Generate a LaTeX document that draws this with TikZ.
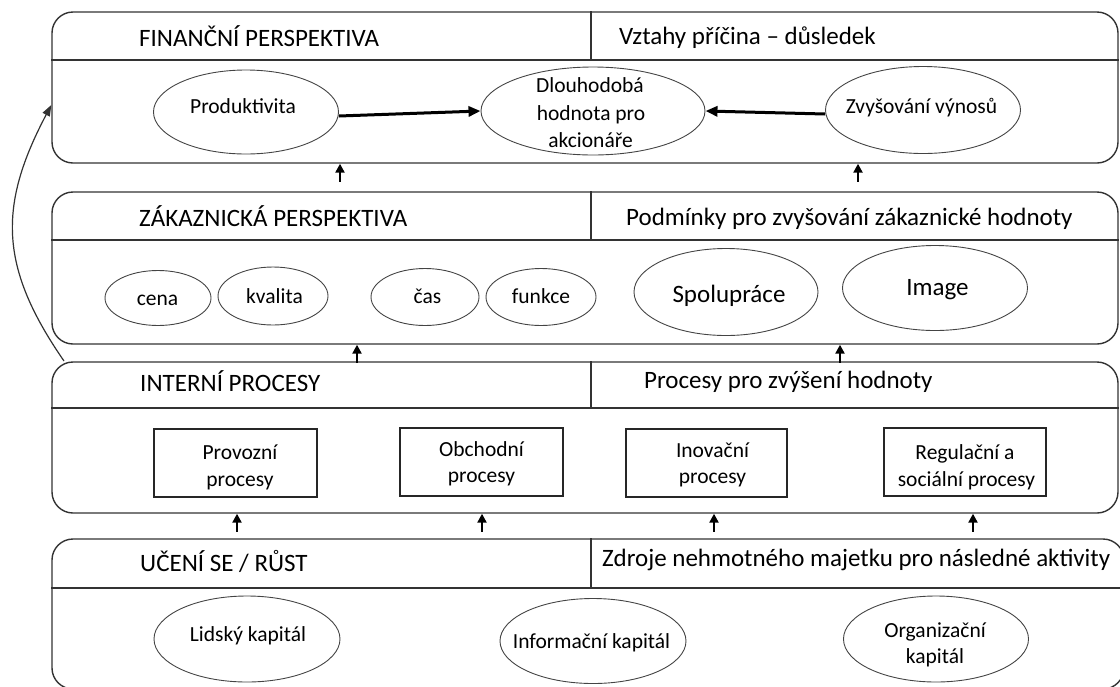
\documentclass[tikz,border=0pt]{standalone}
\usepackage{fontspec}
\setmainfont{Carlito}
\usetikzlibrary{shapes.geometric,arrows.meta,fit}
\definecolor{frame}{HTML}{333333}
\definecolor{ovalline}{HTML}{444444}
\begin{document}
\begin{tikzpicture}[x=1pt,y=-1pt,
  panel/.style={draw=frame, line width=1.4pt, rounded corners=21pt, inner sep=0pt},
  rule/.style={draw=frame, line width=1.4pt},
  oval/.style={draw=ovalline, ellipse, line width=0.9pt, inner sep=0pt},
  procbox/.style={draw=black!85, rectangle, line width=1.2pt, inner sep=0pt},
  hdr/.style={font=\fontsize{25}{30}\selectfont, anchor=base west, inner sep=0pt},
  body/.style={font=\fontsize{21.5}{26}\selectfont, anchor=base, inner sep=0pt},
  big/.style={font=\fontsize{25}{30}\selectfont, anchor=base, inner sep=0pt},
  uparrow/.style={line width=2.6pt, -{Triangle[length=9pt,width=9pt]}},
  thickarrow/.style={line width=3pt, -{Triangle[length=12pt,width=10pt]}},
  curvearrow/.style={draw=frame, line width=1.2pt, -{Triangle[length=11pt,width=8pt]}}
]
\useasboundingbox (0,0) rectangle (1120,686);
\clip (0,0) rectangle (1120,686);

% ---- the four perspective panels ----
\node[panel, fit={(52,12) (1118,163)}] (p1) {};
\node[panel, fit={(52,192) (1118,344)}] (p2) {};
\node[panel, fit={(52,362) (1118,513)}] (p3) {};
\node[panel, fit={(52,539) (1124,689)}] (p4) {};

% header rows and dividers
\foreach \p/\y in {p1/60, p2/240, p3/408, p4/588} {
  \draw[rule] (\p.west |- 0,\y) -- (\p.east |- 0,\y);
  \draw[rule] (591,0 |- \p.north) -- (591,\y);
}

% ---- header texts ----
\node[hdr] (h1l) at (139,46) {FINANČNÍ PERSPEKTIVA};
\node[hdr] (h1r) at (619,44) {Vztahy příčina – důsledek};
\node[hdr] (h2l) at (139,226.5) {ZÁKAZNICKÁ PERSPEKTIVA};
\node[hdr] (h2r) at (626,225) {Podmínky pro zvyšování zákaznické hodnoty};
\node[hdr] (h3l) at (140,391.5) {INTERNÍ PROCESY};
\node[hdr] (h3r) at (644,388) {Procesy pro zvýšení hodnoty};
\node[hdr] (h4l) at (140,571.5) {UČENÍ SE / RŮST};
\node[hdr] (h4r) at (602,566.5) {Zdroje nehmotného majetku pro následné aktivity};

% ---- financial perspective ----
\node[oval, minimum width=185pt, minimum height=84pt] (prod) at (246,112) {};
\node[body] (prodT) at (243,113) {Produktivita};
\node[oval, minimum width=224pt, minimum height=88pt] (dl) at (593,111) {};
\node[body] (dlT1) at (590,92.5) {Dlouhodobá};
\node[body] (dlT2) at (591,120) {hodnota pro};
\node[body] (dlT3) at (590.5,147.5) {akcionáře};
\node[oval, minimum width=195pt, minimum height=87pt] (zv) at (923,110) {};
\node[body] (zvT) at (921.5,113) {Zvyšování výnosů};

\draw[thickarrow] ([yshift=-4pt]prod.east) -- (dl.west);
\draw[thickarrow] ([yshift=-4pt]zv.west) -- (dl.east);

% ---- customer perspective ----
\node[oval, minimum width=106pt, minimum height=55pt] (cena) at (158,298) {};
\node[body] (cenaT) at (157.5,305) {cena};
\node[oval, minimum width=110pt, minimum height=58pt] (kval) at (273,296) {};
\node[body] (kvalT) at (274.5,303) {kvalita};
\node[oval, minimum width=108pt, minimum height=57pt] (cas) at (425,297) {};
\node[body] (casT) at (427.5,303) {čas};
\node[oval, minimum width=110pt, minimum height=57pt] (fce) at (541,297) {};
\node[body] (fceT) at (541,303) {funkce};
\node[oval, minimum width=184pt, minimum height=87pt] (spol) at (726,292) {};
\node[big] (spolT) at (729,302.5) {Spolupráce};
\node[oval, minimum width=185pt, minimum height=85pt] (img) at (935,288) {};
\node[big] (imgT) at (937.5,295) {Image};

% ---- internal processes ----
\node[procbox, fit={(154,429) (317,497)}] (prov) {};
\node[body] (provT1) at (240,459) {Provozní};
\node[body] (provT2) at (240,486) {procesy};
\node[procbox, fit={(400,428) (563,496)}] (obch) {};
\node[body] (obchT1) at (481.5,456.5) {Obchodní};
\node[body] (obchT2) at (481.5,482.5) {procesy};
\node[procbox, fit={(626,429) (787,497)}] (inov) {};
\node[body] (inovT1) at (712.5,457) {Inovační};
\node[body] (inovT2) at (712.5,483) {procesy};
\node[procbox, fit={(884,428) (1046,496)}] (reg) {};
\node[body] (regT1) at (965,459) {Regulační a};
\node[body] (regT2) at (966.5,486) {sociální procesy};

% ---- learning and growth ----
\node[oval, minimum width=186pt, minimum height=86pt] (lid) at (247,639) {};
\node[body] (lidT) at (248,641) {Lidský kapitál};
\node[oval, minimum width=186pt, minimum height=85pt] (inf) at (593,641) {};
\node[body] (infT) at (591.5,648) {Informační kapitál};
\node[oval, minimum width=185pt, minimum height=86pt] (org) at (936,639) {};
\node[body] (orgT1) at (935,637) {Organizační};
\node[body] (orgT2) at (935,663) {kapitál};

% ---- upward links between the panels ----
\foreach \x/\hi in {340/p1, 858/p1, 357/p2, 840/p2, 237/p3, 482/p3, 714/p3, 973/p3} {
  \coordinate (tip) at (\x,0 |- \hi.south);
  \draw[uparrow] ([yshift=-18pt]tip) -- (tip);
}

% ---- feedback loop from internal processes to the financial panel ----
\coordinate (loopstart) at (64,361);
\coordinate (loopend) at (p1.west |- 0,105);
\draw[curvearrow] (loopstart) .. controls (-1,267) and (-2,206) .. (loopend);
\end{tikzpicture}
\end{document}
